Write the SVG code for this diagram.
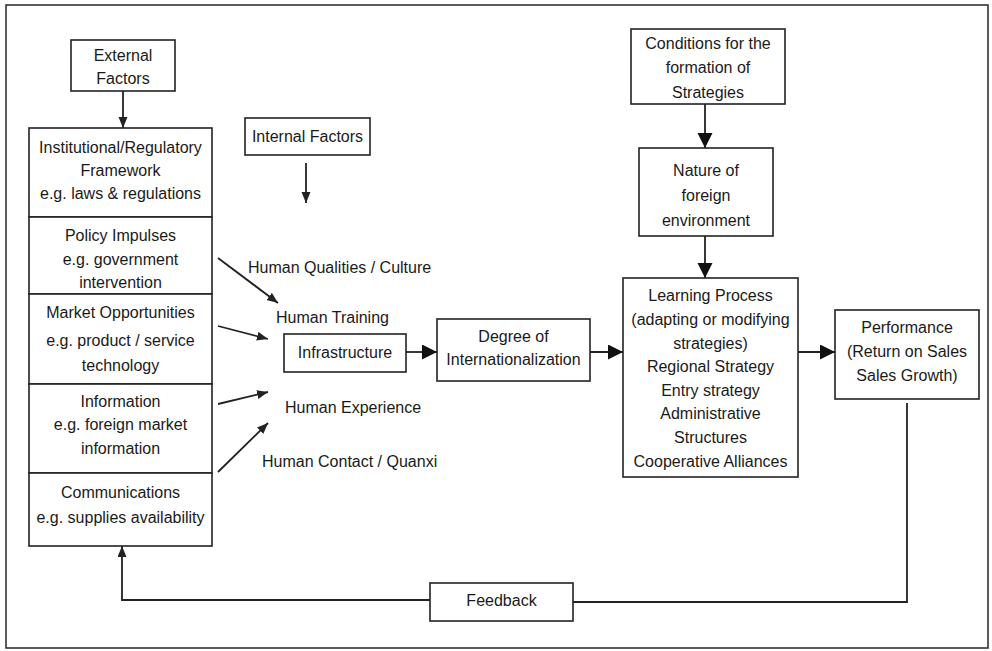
<svg xmlns="http://www.w3.org/2000/svg" width="992" height="651" viewBox="0 0 992 651">
<defs>
<style>
.box{fill:#fff;stroke:#222;stroke-width:1.6}
.ln{fill:none;stroke:#222;stroke-width:1.8}
text{font-family:"Liberation Sans",Arial,sans-serif;font-size:16px;fill:#1a1a1a}
.c{text-anchor:middle}
</style>
<marker id="sm" markerUnits="userSpaceOnUse" markerWidth="12" markerHeight="10" refX="11" refY="4.5" orient="auto">
<path d="M0,0 L11,4.5 L0,9 z" fill="#222"/>
</marker>
<marker id="bg" markerUnits="userSpaceOnUse" markerWidth="16" markerHeight="16" refX="15" refY="7.5" orient="auto">
<path d="M0,0 L15,7.5 L0,15 z" fill="#111"/>
</marker>
</defs>
<rect x="0" y="0" width="992" height="651" fill="#fff"/>
<rect x="6" y="5" width="982" height="643" fill="none" stroke="#333" stroke-width="1.6"/>

<g id="connectors">
<line class="ln" x1="123" y1="91" x2="123" y2="128" marker-end="url(#sm)"/>
<line class="ln" x1="306" y1="163" x2="306" y2="203" marker-end="url(#sm)"/>
<line class="ln" x1="218" y1="258" x2="278" y2="303" marker-end="url(#sm)"/>
<line class="ln" x1="218" y1="326" x2="268" y2="339" marker-end="url(#sm)"/>
<line class="ln" x1="218" y1="404" x2="268" y2="392" marker-end="url(#sm)"/>
<line class="ln" x1="218" y1="472" x2="268" y2="423" marker-end="url(#sm)"/>
<line class="ln" x1="406" y1="352" x2="437" y2="352" marker-end="url(#bg)"/>
<line class="ln" x1="590" y1="352" x2="623" y2="352" marker-end="url(#bg)"/>
<line class="ln" x1="798" y1="352" x2="835" y2="352" marker-end="url(#bg)"/>
<line class="ln" x1="705" y1="104" x2="705" y2="148" marker-end="url(#bg)"/>
<line class="ln" x1="705" y1="236" x2="705" y2="278" marker-end="url(#bg)"/>
<polyline class="ln" points="907,403 907,602 573,602"/>
<polyline class="ln" points="430,600 122,600 122,546" marker-end="url(#sm)"/>
</g>

<g id="external">
<rect class="box" x="71" y="40" width="104" height="51"/>
<text class="c" x="123" y="61">External</text>
<text class="c" x="123" y="84">Factors</text>
</g>
<g id="institutional">
<rect class="box" x="29" y="128" width="183" height="89"/>
<text class="c" x="120.5" y="153">Institutional/Regulatory</text>
<text class="c" x="120.5" y="176">Framework</text>
<text class="c" x="120.5" y="199">e.g. laws &amp; regulations</text>
</g>
<g id="policy">
<rect class="box" x="29" y="217" width="183" height="77"/>
<text class="c" x="120.5" y="241">Policy Impulses</text>
<text class="c" x="120.5" y="265">e.g. government</text>
<text class="c" x="120.5" y="288">intervention</text>
</g>
<g id="market">
<rect class="box" x="29" y="294" width="183" height="90"/>
<text class="c" x="120.5" y="318">Market Opportunities</text>
<text class="c" x="120.5" y="346">e.g. product / service</text>
<text class="c" x="120.5" y="371">technology</text>
</g>
<g id="information">
<rect class="box" x="29" y="384" width="183" height="89"/>
<text class="c" x="120.5" y="407">Information</text>
<text class="c" x="120.5" y="430">e.g. foreign market</text>
<text class="c" x="120.5" y="454">information</text>
</g>
<g id="communications">
<rect class="box" x="29" y="473" width="183" height="73"/>
<text class="c" x="120.5" y="498">Communications</text>
<text class="c" x="120.5" y="523">e.g. supplies availability</text>
</g>
<g id="internal">
<rect class="box" x="245" y="118" width="125" height="37"/>
<text class="c" x="307.5" y="142">Internal Factors</text>
</g>
<g id="human-labels">
<text x="248" y="273">Human Qualities / Culture</text>
<text x="276" y="323">Human Training</text>
<text x="285" y="413">Human Experience</text>
<text x="262" y="467">Human Contact / Quanxi</text>
</g>
<g id="infrastructure">
<rect class="box" x="284" y="334" width="122" height="38"/>
<text class="c" x="345" y="358">Infrastructure</text>
</g>
<g id="degree">
<rect class="box" x="437" y="319" width="153" height="62"/>
<text class="c" x="513.5" y="342">Degree of</text>
<text class="c" x="513.5" y="365">Internationalization</text>
</g>
<g id="conditions">
<rect class="box" x="631" y="29" width="154" height="75"/>
<text class="c" x="708" y="49">Conditions for the</text>
<text class="c" x="708" y="73">formation of</text>
<text class="c" x="708" y="98">Strategies</text>
</g>
<g id="nature">
<rect class="box" x="639" y="148" width="134" height="88"/>
<text class="c" x="706" y="176">Nature of</text>
<text class="c" x="706" y="201">foreign</text>
<text class="c" x="706" y="226">environment</text>
</g>
<g id="learning">
<rect class="box" x="623" y="278" width="175" height="199"/>
<text class="c" x="710.5" y="301">Learning Process</text>
<text class="c" x="710.5" y="325">(adapting or modifying</text>
<text class="c" x="710.5" y="349">strategies)</text>
<text class="c" x="710.5" y="372">Regional Strategy</text>
<text class="c" x="710.5" y="396">Entry strategy</text>
<text class="c" x="710.5" y="419">Administrative</text>
<text class="c" x="710.5" y="443">Structures</text>
<text class="c" x="710.5" y="467">Cooperative Alliances</text>
</g>
<g id="performance">
<rect class="box" x="835" y="310" width="144" height="89"/>
<text class="c" x="907" y="333">Performance</text>
<text class="c" x="907" y="357">(Return on Sales</text>
<text class="c" x="907" y="381">Sales Growth)</text>
</g>
<g id="feedback">
<rect class="box" x="430" y="583" width="143" height="38"/>
<text class="c" x="501.5" y="606">Feedback</text>
</g>
</svg>
